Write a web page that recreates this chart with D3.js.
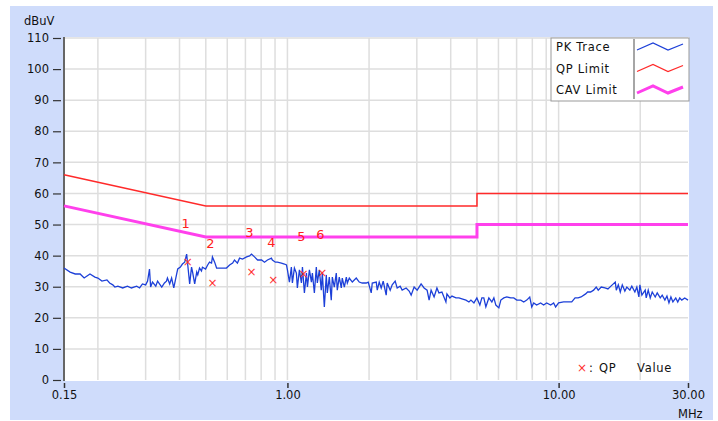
<!DOCTYPE html>
<html>
<head>
<meta charset="utf-8">
<script src="https://cdn.jsdelivr.net/npm/d3@7"></script>
<style>
  body { margin: 0; background: #fff; }
  text { font-family: "DejaVu Sans", sans-serif; font-size: 11px; fill: #111; }
</style>
</head>
<body>
<div class="container"></div>
<script>
const width = 718;
const height = 421;

// y ticks and x ticks (MHz)
const yTicks = [0, 10, 20, 30, 40, 50, 60, 70, 80, 90, 100, 110];
const xTickVals = [0.15, 1, 10, 30];
const xTickLabels = ["0.15", "1.00", "10.00", "30.00"];
const xGrid = [0.2, 0.3, 0.4, 0.5, 0.6, 0.7, 0.8, 0.9, 1, 2, 3, 4, 5, 6, 7, 8, 9, 10, 20];

// limit lines [MHz, dBuV]
const qpLimit = [[0.15, 66], [0.5, 56], [5, 56], [5, 60], [30, 60]];
const avLimit = [[0.15, 56], [0.5, 46], [5, 46], [5, 50], [30, 50]];

// QP readings
const qpFreq = [0.429, 0.529, 0.737, 0.887, 1.146, 1.345];
const qpValue = [38.0, 31.2, 34.7, 32.2, 34.1, 34.4];
const markLevel = [50.5, 44.1, 47.6, 44.4, 46.3, 47.0];

// peak trace [MHz, dBuV]
const pkTrace = [
  [0.150, 36.0], [0.158, 34.7], [0.165, 34.1], [0.172, 34.1], [0.178, 32.8], [0.187, 34.1],
  [0.195, 33.1], [0.200, 32.8], [0.207, 31.8], [0.216, 32.2], [0.221, 31.2], [0.227, 30.6],
  [0.231, 29.9], [0.237, 30.2], [0.247, 29.6], [0.257, 30.2], [0.266, 29.6], [0.278, 30.2],
  [0.285, 29.6], [0.292, 30.9], [0.300, 30.6], [0.305, 31.8], [0.310, 35.7], [0.313, 29.9],
  [0.318, 31.5], [0.327, 30.2], [0.332, 31.8], [0.344, 29.9], [0.352, 31.2], [0.358, 31.8],
  [0.361, 32.8], [0.368, 30.9], [0.374, 32.8], [0.381, 29.6], [0.391, 34.4], [0.394, 35.7],
  [0.403, 36.3], [0.410, 37.3], [0.418, 37.9], [0.425, 40.5], [0.429, 37.0], [0.436, 30.9],
  [0.443, 36.3], [0.447, 34.7], [0.455, 30.9], [0.463, 34.7], [0.467, 33.8], [0.474, 36.0],
  [0.482, 35.1], [0.486, 36.3], [0.499, 35.7], [0.508, 37.0], [0.516, 37.9], [0.525, 37.6],
  [0.529, 39.6], [0.539, 37.9], [0.548, 36.0], [0.572, 36.0], [0.596, 36.0], [0.612, 37.0],
  [0.628, 37.6], [0.638, 38.6], [0.654, 37.6], [0.666, 39.2], [0.683, 38.9], [0.707, 39.6],
  [0.725, 39.9], [0.737, 40.5], [0.756, 39.6], [0.776, 38.6], [0.803, 38.6], [0.823, 37.9],
  [0.844, 38.6], [0.873, 39.2], [0.880, 38.6], [0.903, 37.9], [0.918, 37.9], [0.950, 37.6],
  [0.975, 37.3], [0.992, 37.0], [1.000, 35.4], [1.017, 31.5], [1.034, 36.3], [1.043, 31.2],
  [1.061, 36.0], [1.079, 34.4], [1.088, 29.6], [1.107, 35.4], [1.126, 31.2], [1.136, 36.3],
  [1.155, 28.0], [1.175, 34.4], [1.185, 29.9], [1.205, 35.4], [1.226, 31.5], [1.236, 34.4],
  [1.257, 28.0], [1.278, 36.3], [1.289, 31.2], [1.311, 35.4], [1.333, 28.9], [1.345, 34.4],
  [1.368, 23.5], [1.391, 33.8], [1.403, 28.0], [1.427, 33.1], [1.451, 25.7], [1.464, 33.1],
  [1.489, 29.9], [1.514, 34.4], [1.527, 28.9], [1.553, 33.1], [1.580, 29.6], [1.593, 32.8],
  [1.621, 29.9], [1.649, 33.1], [1.663, 31.2], [1.691, 32.8], [1.735, 31.5], [1.794, 32.8],
  [1.840, 31.5], [1.887, 31.2], [1.953, 31.2], [1.986, 31.5], [2.037, 28.0], [2.055, 31.2],
  [2.126, 31.5], [2.144, 28.9], [2.180, 31.5], [2.217, 29.6], [2.255, 31.8], [2.313, 27.3],
  [2.333, 31.2], [2.393, 28.9], [2.434, 30.6], [2.496, 31.8], [2.539, 29.6], [2.604, 30.2],
  [2.649, 28.9], [2.740, 29.6], [2.811, 28.6], [2.859, 27.3], [2.932, 29.9], [3.008, 28.9],
  [3.059, 29.9], [3.111, 30.9], [3.191, 29.6], [3.274, 28.9], [3.330, 25.7], [3.387, 28.9],
  [3.474, 26.7], [3.559, 29.6], [3.620, 28.0], [3.713, 28.3], [3.841, 25.1], [3.874, 27.7],
  [3.973, 26.4], [4.042, 27.0], [4.182, 26.4], [4.290, 26.4], [4.401, 26.1], [4.553, 25.7],
  [4.670, 25.1], [4.750, 25.7], [4.872, 24.8], [4.995, 26.4], [5.123, 24.1], [5.211, 26.4],
  [5.299, 26.4], [5.391, 23.5], [5.530, 26.4], [5.673, 25.1], [5.771, 26.4], [5.869, 24.1],
  [6.020, 23.2], [6.123, 25.7], [6.280, 26.4], [6.440, 26.7], [6.662, 26.4], [6.833, 26.4],
  [7.010, 25.7], [7.252, 25.7], [7.438, 25.1], [7.629, 25.7], [7.826, 26.7], [7.960, 23.5],
  [8.095, 24.8], [8.298, 24.1], [8.584, 24.8], [8.805, 24.1], [9.035, 24.8], [9.347, 24.1],
  [9.587, 24.8], [9.749, 23.5], [10.00, 24.8], [10.43, 25.1], [10.90, 25.1], [11.18, 25.1],
  [11.50, 26.4], [11.80, 26.4], [12.10, 26.7], [12.58, 27.7], [12.79, 28.3], [13.12, 28.3],
  [13.46, 28.9], [13.76, 29.9], [14.00, 28.9], [14.36, 29.9], [14.82, 29.6], [15.20, 29.3],
  [15.59, 30.2], [16.18, 31.5], [16.32, 28.9], [16.60, 30.6], [16.88, 28.3], [17.17, 30.6],
  [17.55, 28.6], [17.85, 29.9], [18.31, 28.9], [18.62, 30.2], [19.11, 28.3], [19.43, 29.9],
  [19.77, 26.7], [19.94, 30.6], [20.28, 27.3], [20.86, 28.9], [21.04, 26.4], [21.40, 28.9],
  [21.77, 26.4], [22.14, 28.3], [22.71, 26.7], [23.10, 28.0], [23.70, 26.4], [24.10, 27.3],
  [24.66, 25.7], [25.09, 27.0], [25.52, 24.8], [25.95, 26.7], [26.39, 25.1], [27.04, 26.4],
  [27.50, 25.1], [27.97, 26.4], [28.45, 25.7], [29.18, 26.4], [30.00, 25.7]
];

const legendItems = ["PK Trace", "QP Limit", "CAV Limit"];
const legendColors = ["#1d40d8", "#ff2a2a", "#ff40ec"];
const legendWidths = [1.3, 1.3, 3];

const margin = {left: 64, right: 28, top: 37, bottom: 40};

const svg = d3.select(".container").append("svg").attr("width", width).attr("height", height);

// outer panel
svg.append("rect").attr("x", 10).attr("y", 6).attr("width", 703).attr("height", 414).attr("fill", "#cfdcfb");

const x = d3.scaleLog().domain([0.15, 30]).range([margin.left, width - margin.right - 2]);
const y = d3.scaleLinear().domain([0, 110]).range([380, margin.top + 1]);

svg.append("rect").attr("x", x(0.15)).attr("y", y(110) - 1)
  .attr("width", x(30) - x(0.15) + 1).attr("height", y(0) - y(110) + 2).attr("fill", "#fff");

// grid
const grid = svg.append("g").attr("stroke", "#dedede").attr("stroke-width", 1.5);
grid.selectAll("line.v").data(xGrid).enter().append("line")
  .attr("x1", d => x(d)).attr("x2", d => x(d)).attr("y1", y(110)).attr("y2", y(0));
grid.selectAll("line.h").data(yTicks.slice(1)).enter().append("line")
  .attr("x1", x(0.15)).attr("x2", x(30)).attr("y1", d => y(d)).attr("y2", d => y(d));

// y axis
const yAxis = svg.append("g").attr("transform", `translate(${x(0.15) - 3},0)`)
  .call(d3.axisLeft(y).tickValues(yTicks).tickSize(8).tickPadding(4));
yAxis.select(".domain").remove();
yAxis.selectAll(".tick line").attr("stroke", "#333").attr("stroke-width", 1.2);
yAxis.selectAll(".tick text").style("font-size", "11.5px").attr("fill", "#111");
svg.append("line").attr("x1", x(0.15)).attr("x2", x(0.15)).attr("y1", y(110) - 1).attr("y2", y(0) + 1)
  .attr("stroke", "#666").attr("stroke-width", 2);

// x axis
const xAxis = svg.append("g").attr("transform", `translate(0,${y(0) + 3})`)
  .call(d3.axisBottom(x).tickValues(xTickVals).tickSize(5).tickPadding(3)
    .tickFormat((d, i) => xTickLabels[i]));
xAxis.select(".domain").remove();
xAxis.selectAll(".tick line").attr("stroke", "#333").attr("stroke-width", 1.5);
xAxis.selectAll(".tick text").style("font-size", "11.5px").attr("fill", "#111");

svg.append("text").attr("x", 24).attr("y", 25).style("font-size", "11.5px").text("dBuV");
svg.append("text").attr("x", 678).attr("y", 418).style("font-size", "11.5px").text("MHz");

const line = d3.line().x(d => x(d[0])).y(d => y(d[1]));

svg.append("path").datum(pkTrace).attr("d", line)
  .attr("fill", "none").attr("stroke", legendColors[0]).attr("stroke-width", 1.3);
svg.append("path").datum(qpLimit).attr("d", line)
  .attr("fill", "none").attr("stroke", legendColors[1]).attr("stroke-width", 1.5);
svg.append("path").datum(avLimit).attr("d", line)
  .attr("fill", "none").attr("stroke", legendColors[2]).attr("stroke-width", 3);

// QP marks
const marks = svg.append("g");
marks.selectAll("text.x").data(qpFreq).enter().append("text")
  .attr("x", d => x(d)).attr("y", (d, i) => y(qpValue[i]) + 4)
  .attr("text-anchor", "middle").style("fill", "#ff3030").style("font-size", "12px").text("×");
marks.selectAll("text.n").data(qpFreq).enter().append("text")
  .attr("x", d => x(d) - 2).attr("y", (d, i) => y(markLevel[i]) + 5)
  .attr("text-anchor", "middle").style("fill", "#ff2020").style("font-size", "13px")
  .text((d, i) => i + 1);

// legend
const lg = svg.append("g");
lg.append("rect").attr("x", 551).attr("y", 38).attr("width", 138).attr("height", 63)
  .attr("fill", "#fff").attr("stroke", "#999");
lg.append("line").attr("x1", 634).attr("x2", 634).attr("y1", 39).attr("y2", 99)
  .attr("stroke", "#888").attr("stroke-width", 1.5);
legendItems.forEach((name, i) => {
  const cy = 47 + i * 21.5;
  lg.append("text").attr("x", 556).attr("y", cy + 4).style("font-size", "11.5px")
    .style("letter-spacing", "0.7px").text(name);
  lg.append("path")
    .attr("d", `M637,${cy + 3} L653,${cy - 4} L668,${cy + 3} L683,${cy - 3}`)
    .attr("fill", "none").attr("stroke", legendColors[i]).attr("stroke-width", legendWidths[i]);
});

// note
svg.append("text").attr("x", 577).attr("y", 372).style("fill", "#ff3030").style("font-size", "12px").text("×");
svg.append("text").attr("x", 589).attr("y", 372).style("font-size", "11.5px").text(":");
svg.append("text").attr("x", 599).attr("y", 372).style("font-size", "11.5px").style("letter-spacing", "0.7px").text("QP");
svg.append("text").attr("x", 637).attr("y", 372).style("font-size", "11.5px").style("letter-spacing", "0.7px").text("Value");
</script>
</body>
</html>
